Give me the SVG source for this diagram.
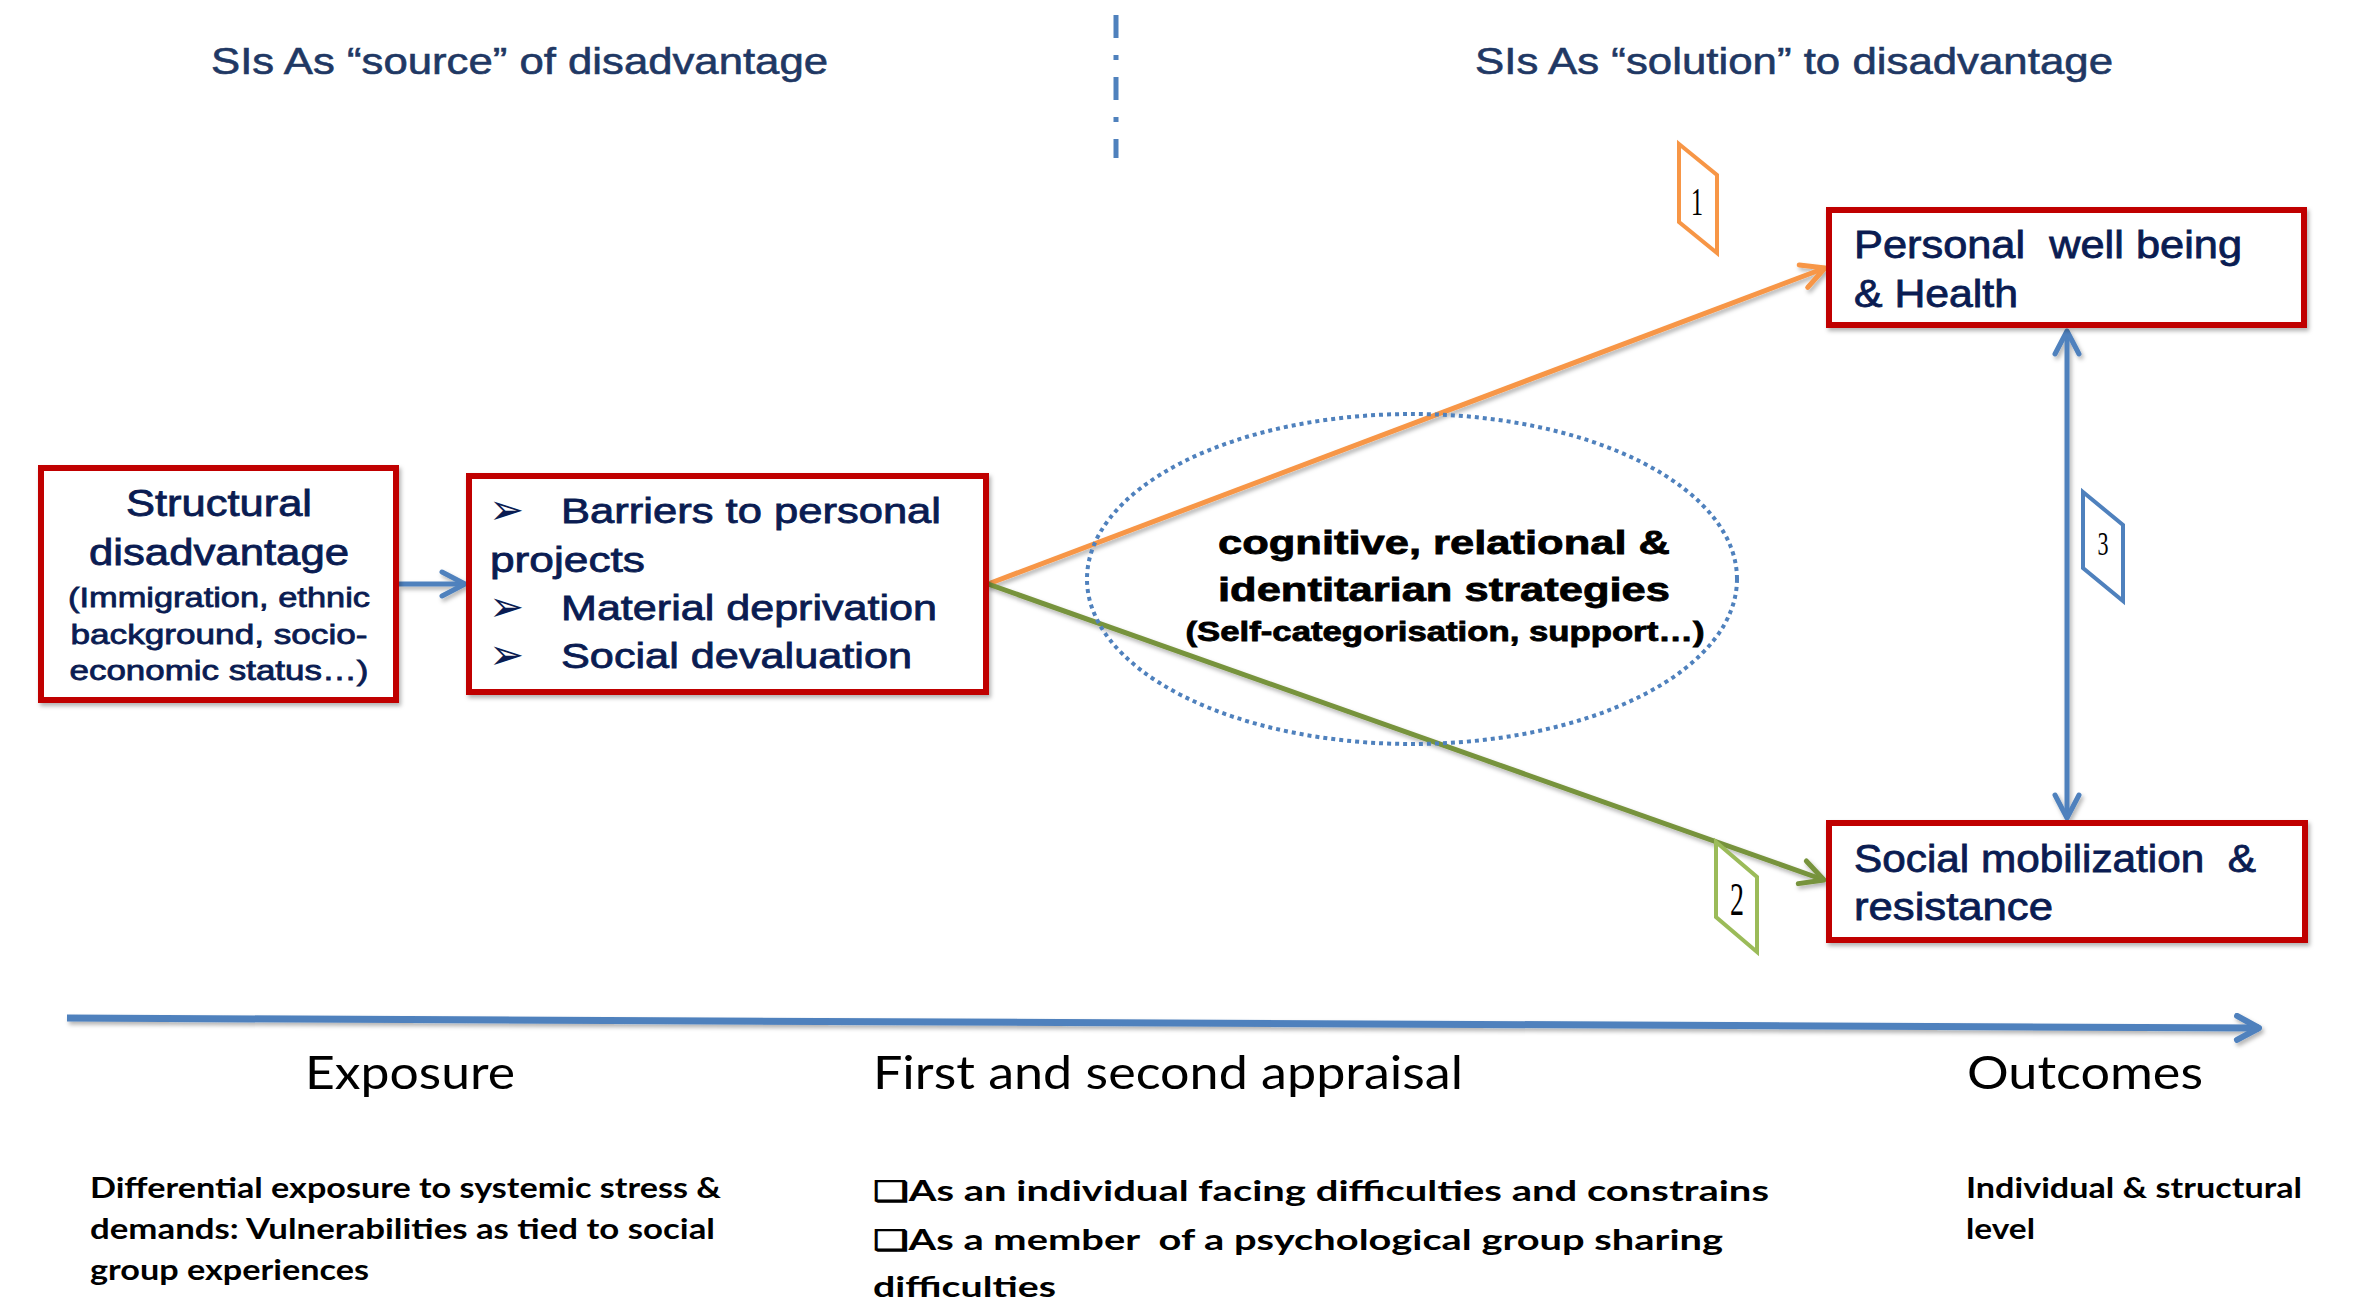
<svg xmlns="http://www.w3.org/2000/svg" width="2359" height="1304" viewBox="0 0 2359 1304">
<defs>
<style>
text{white-space:pre}
.box{fill:#fff;stroke:#C00000;stroke-width:6}
.bt{font-family:"Liberation Sans",Arial,sans-serif;fill:#0A1C52;stroke:#0A1C52;stroke-width:0.8}
.title{font-family:"Liberation Sans",Arial,sans-serif;font-size:37px;fill:#1F3864;stroke:#1F3864;stroke-width:0.6}
.et{font-family:"Liberation Sans",Arial,sans-serif;font-weight:bold;fill:#000;stroke:#000;stroke-width:0.8}
.hd{font-family:Lato,"Open Sans",sans-serif;font-size:46px;fill:#000}
.bd{font-family:Lato,"Open Sans",sans-serif;font-size:28px;font-weight:bold;fill:#000}
.lbl{font-family:"Liberation Serif",serif;fill:#000}
.bul{font-family:"DejaVu Sans",sans-serif;font-size:42px;fill:#0A1C52}
.ln{fill:none;stroke-width:5}
</style>
<marker id="aBlue" markerUnits="userSpaceOnUse" viewBox="0 0 30 30" refX="27" refY="15" markerWidth="30" markerHeight="30" orient="auto-start-reverse"><path d="M4,3 L27,15 L4,27" fill="none" stroke="#4F81BD" stroke-width="5" stroke-linecap="round" stroke-linejoin="round"/></marker>
<marker id="aOrange" markerUnits="userSpaceOnUse" viewBox="0 0 30 30" refX="27" refY="15" markerWidth="30" markerHeight="30" orient="auto"><path d="M4,3 L27,15 L4,27" fill="none" stroke="#F79646" stroke-width="5" stroke-linecap="round" stroke-linejoin="round"/></marker>
<marker id="aGreen" markerUnits="userSpaceOnUse" viewBox="0 0 30 30" refX="27" refY="15" markerWidth="30" markerHeight="30" orient="auto"><path d="M4,3 L27,15 L4,27" fill="none" stroke="#77933C" stroke-width="5" stroke-linecap="round" stroke-linejoin="round"/></marker>
<marker id="aTime" markerUnits="userSpaceOnUse" viewBox="0 0 30 30" refX="27" refY="15" markerWidth="30" markerHeight="30" orient="auto"><path d="M5,3 L27,15 L5,27" fill="none" stroke="#4F81BD" stroke-width="6" stroke-linecap="round" stroke-linejoin="round"/></marker>
<filter id="sh" filterUnits="userSpaceOnUse" x="0" y="0" width="2359" height="1304"><feDropShadow dx="2" dy="3" stdDeviation="2" flood-color="#000" flood-opacity="0.3"/></filter>
</defs>
<rect width="2359" height="1304" fill="#fff"/>

<g id="titles">
<text class="title" x="211" y="74" textLength="617" lengthAdjust="spacingAndGlyphs">SIs As “source” of disadvantage</text>
<text class="title" x="1475" y="74" textLength="638" lengthAdjust="spacingAndGlyphs">SIs As “solution” to disadvantage</text>
</g>

<g id="divider">
<line x1="1116" y1="0" x2="1116" y2="158" stroke="#4F81BD" stroke-width="5" stroke-dasharray="23 17 5 17" stroke-dashoffset="47"/>
</g>

<g id="connectors">
<line class="ln" x1="399" y1="584" x2="465" y2="584" stroke="#4F81BD" marker-end="url(#aBlue)" filter="url(#sh)"/>
<line class="ln" x1="988" y1="584" x2="1825" y2="268" stroke="#F79646" marker-end="url(#aOrange)" filter="url(#sh)"/>
<line class="ln" x1="988" y1="584" x2="1824" y2="880" stroke="#77933C" marker-end="url(#aGreen)" filter="url(#sh)"/>
<line class="ln" x1="2067" y1="331" x2="2067" y2="818" stroke="#4F81BD" marker-start="url(#aBlue)" marker-end="url(#aBlue)" filter="url(#sh)"/>
<line x1="67" y1="1018" x2="2259" y2="1028" stroke="#4F81BD" stroke-width="7" marker-end="url(#aTime)" filter="url(#sh)"/>
</g>

<g id="structural">
<rect class="box" x="41" y="468" width="355" height="232" filter="url(#sh)"/>
<text class="bt" x="219" y="516" font-size="36" text-anchor="middle" textLength="186" lengthAdjust="spacingAndGlyphs">Structural</text>
<text class="bt" x="219" y="565" font-size="36" text-anchor="middle" textLength="260" lengthAdjust="spacingAndGlyphs">disadvantage</text>
<text class="bt" x="219" y="607" font-size="28" text-anchor="middle" textLength="302" lengthAdjust="spacingAndGlyphs">(Immigration, ethnic</text>
<text class="bt" x="219" y="644" font-size="28" text-anchor="middle" textLength="297" lengthAdjust="spacingAndGlyphs">background, socio-</text>
<text class="bt" x="219" y="680" font-size="28" text-anchor="middle" textLength="299" lengthAdjust="spacingAndGlyphs">economic status…)</text>
</g>

<g id="barriers">
<rect class="box" x="469" y="476" width="517" height="216" filter="url(#sh)"/>
<text class="bul" x="489" y="524">➢</text>
<text class="bt" x="561" y="523" font-size="35" textLength="380" lengthAdjust="spacingAndGlyphs">Barriers to personal</text>
<text class="bt" x="490" y="572" font-size="35" textLength="155" lengthAdjust="spacingAndGlyphs">projects</text>
<text class="bul" x="489" y="621">➢</text>
<text class="bt" x="561" y="620" font-size="35" textLength="376" lengthAdjust="spacingAndGlyphs">Material deprivation</text>
<text class="bul" x="489" y="669">➢</text>
<text class="bt" x="561" y="668" font-size="35" textLength="351" lengthAdjust="spacingAndGlyphs">Social devaluation</text>
</g>

<g id="strategies">
<ellipse cx="1412" cy="579" rx="325" ry="165" fill="none" stroke="#4F81BD" stroke-width="4" stroke-dasharray="4 4"/>
<text class="et" x="1444" y="554" font-size="34" text-anchor="middle" textLength="452" lengthAdjust="spacingAndGlyphs">cognitive, relational &amp;</text>
<text class="et" x="1444" y="601" font-size="34" text-anchor="middle" textLength="452" lengthAdjust="spacingAndGlyphs">identitarian strategies</text>
<text class="et" x="1445" y="641" font-size="27" text-anchor="middle" textLength="519" lengthAdjust="spacingAndGlyphs">(Self-categorisation, support…)</text>
</g>

<g id="wellbeing">
<rect class="box" x="1829" y="210" width="475" height="115" filter="url(#sh)"/>
<text class="bt" x="1854" y="258" font-size="38" textLength="388" lengthAdjust="spacingAndGlyphs">Personal  well being</text>
<text class="bt" x="1854" y="307" font-size="38" textLength="164" lengthAdjust="spacingAndGlyphs">&amp; Health</text>
</g>

<g id="mobilization">
<rect class="box" x="1829" y="823" width="476" height="117" filter="url(#sh)"/>
<text class="bt" x="1854" y="872" font-size="38" textLength="402" lengthAdjust="spacingAndGlyphs">Social mobilization  &amp;</text>
<text class="bt" x="1854" y="920" font-size="38" textLength="199" lengthAdjust="spacingAndGlyphs">resistance</text>
</g>

<g id="label1">
<polygon points="1679,144 1717,175 1717,253 1679,222" fill="#fff" stroke="#F79646" stroke-width="4"/>
<text class="lbl" x="1697" y="215" font-size="40" text-anchor="middle" textLength="12" lengthAdjust="spacingAndGlyphs">1</text>
</g>
<g id="label2">
<polygon points="1716,842 1757,877 1757,952 1716,917" fill="#fff" stroke="#9BBB59" stroke-width="4"/>
<text class="lbl" x="1737" y="915" font-size="46" text-anchor="middle" textLength="14" lengthAdjust="spacingAndGlyphs">2</text>
</g>
<g id="label3">
<polygon points="2083,492 2123,525 2123,601 2083,568" fill="#fff" stroke="#4F81BD" stroke-width="4"/>
<text class="lbl" x="2103" y="555" font-size="34" text-anchor="middle" textLength="11" lengthAdjust="spacingAndGlyphs">3</text>
</g>

<g id="phases">
<text class="hd" x="305" y="1089" textLength="210" lengthAdjust="spacingAndGlyphs">Exposure</text>
<text class="hd" x="873" y="1089" textLength="590" lengthAdjust="spacingAndGlyphs">First and second appraisal</text>
<text class="hd" x="1967" y="1089" textLength="236" lengthAdjust="spacingAndGlyphs">Outcomes</text>
</g>

<g id="descriptions">
<text class="bd" x="90" y="1198" textLength="631" lengthAdjust="spacingAndGlyphs">Differential exposure to systemic stress &amp;</text>
<text class="bd" x="90" y="1239" textLength="625" lengthAdjust="spacingAndGlyphs">demands: Vulnerabilities as tied to social</text>
<text class="bd" x="90" y="1280" textLength="279" lengthAdjust="spacingAndGlyphs">group experiences</text>
<text class="bd" x="873" y="1201" textLength="896" lengthAdjust="spacingAndGlyphs">❑As an individual facing difficulties and constrains</text>
<text class="bd" x="873" y="1250" textLength="850" lengthAdjust="spacingAndGlyphs">❑As a member  of a psychological group sharing</text>
<text class="bd" x="873" y="1297" textLength="183" lengthAdjust="spacingAndGlyphs">difficulties</text>
<text class="bd" x="1966" y="1198" textLength="336" lengthAdjust="spacingAndGlyphs">Individual &amp; structural</text>
<text class="bd" x="1966" y="1239" textLength="69" lengthAdjust="spacingAndGlyphs">level</text>
</g>
</svg>
